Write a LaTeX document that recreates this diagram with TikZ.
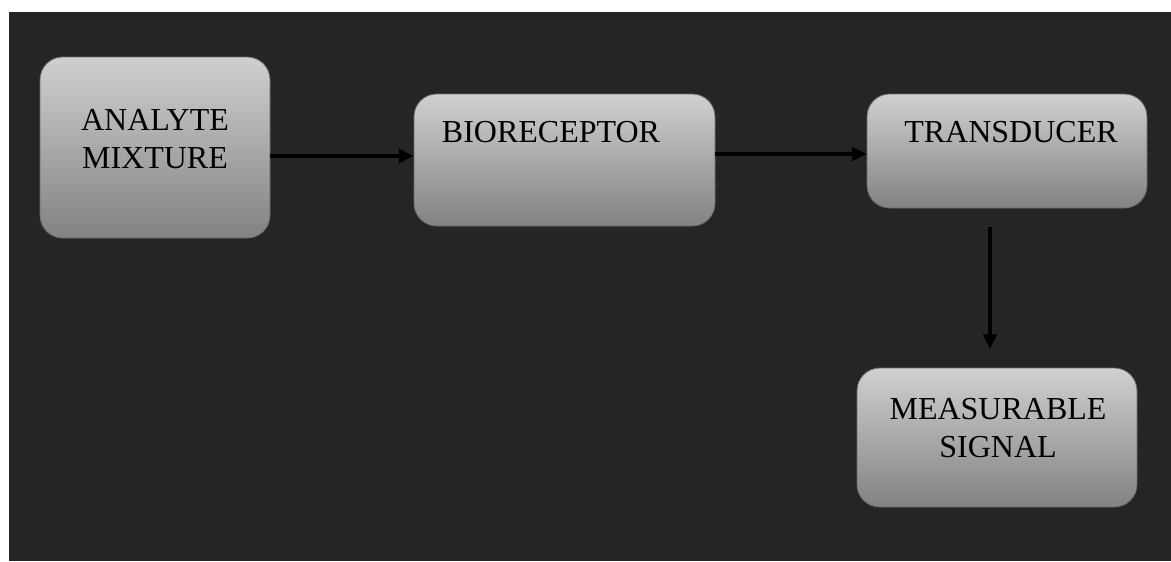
\documentclass[tikz,border=0pt]{standalone}
\usepackage{fontspec}
\setmainfont{Liberation Serif}
\usetikzlibrary{arrows.meta}
\definecolor{bgdark}{HTML}{252525}
\definecolor{boxtop}{HTML}{D0D0D0}
\definecolor{boxmid}{HTML}{B8B8B8}
\definecolor{boxbot}{HTML}{828282}
\definecolor{boxedge}{HTML}{6A6A6A}
\tikzset{
  stagebox/.style={rectangle, rounded corners=17pt, inner sep=0pt,
    top color=boxtop, middle color=boxmid, bottom color=boxbot,
    draw=boxedge, line width=0.6pt},
  stagetext/.style={font=\fontsize{24pt}{28.5pt}\selectfont, text=black,
    align=center, inner sep=0pt},
  flow/.style={draw=black, line width=2.6pt,
    -{Triangle[length=11pt,width=10pt]}}
}
\begin{document}
\begin{tikzpicture}[x=0.75pt,y=-0.75pt]
  % page and dark backdrop
  \useasboundingbox (0,0) rectangle (1171,561);
  \fill[white] (0,0) rectangle (1171,561);
  \fill[bgdark] (9,12) rectangle (1171,561);

  % stage boxes
  \node[stagebox, minimum width=230*0.75pt, minimum height=181*0.75pt] (mix) at (155,147.5) {};
  \node[stagebox, minimum width=301*0.75pt, minimum height=132*0.75pt] (bio) at (564.5,160) {};
  \node[stagebox, minimum width=280*0.75pt, minimum height=114*0.75pt] (trans) at (1007,151) {};
  \node[stagebox, minimum width=280*0.75pt, minimum height=139*0.75pt] (meas) at (997,437.5) {};

  % box captions
  \node[stagetext] (mixtext) at (155,139) {ANALYTE\\MIXTURE};
  \node[stagetext] (biotext) at (551,132) {BIORECEPTOR};
  \node[stagetext] (transtext) at (1011,132) {TRANSDUCER};
  \node[stagetext] (meastext) at (998,428) {MEASURABLE\\SIGNAL};

  % connector levels
  \coordinate (rowA) at (0,156);
  \coordinate (rowB) at (0,154);
  \coordinate (downStart) at (990,227);
  \coordinate (downEnd) at (990,349);

  % connectors
  \draw[flow] (mix.east |- rowA) -- (bio.west |- rowA);
  \draw[flow] (bio.east |- rowB) -- (trans.west |- rowB);
  \draw[flow] (downStart) -- (downEnd);
\end{tikzpicture}
\end{document}
